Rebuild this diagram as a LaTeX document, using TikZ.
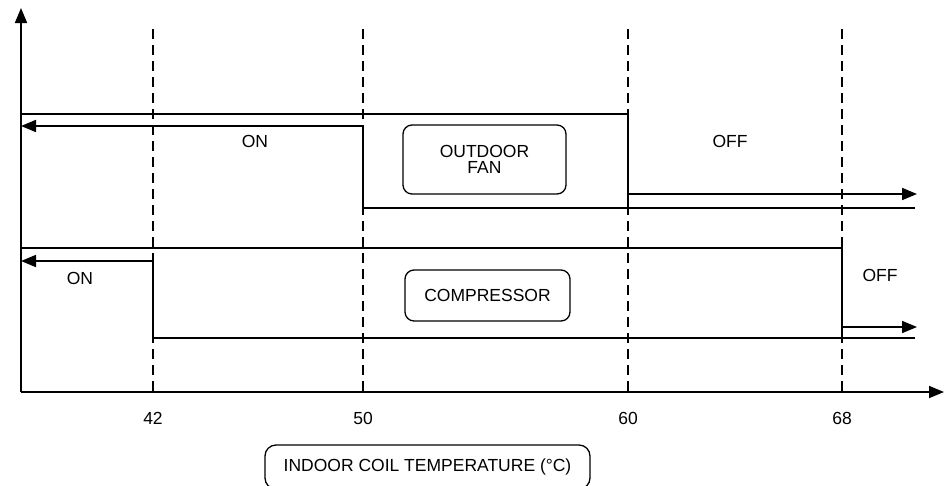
\documentclass[tikz,border=0pt]{standalone}
\usepackage{fontspec}
\setmainfont{Liberation Sans}
\usetikzlibrary{arrows.meta}
\begin{document}
\begin{tikzpicture}[x=1pt,y=-1pt,
  line/.style={line width=1.7pt},
  guide/.style={line width=1.5pt,dash pattern=on 10pt off 6pt},
  flow/.style={line width=1.7pt,-{Triangle[length=15pt,width=12pt]}},
  lbl/.style={font=\fontsize{17.5}{17.5}\selectfont,inner sep=0pt},
  tag/.style={draw,line width=1.3pt,rounded corners=9pt,inner sep=0pt,align=center,
    font=\fontsize{17.5}{16.5}\selectfont}]
\useasboundingbox (0,0) rectangle (944,485);
\clip (0,0) rectangle (944,485);

% axes
\coordinate (O) at (21,392);
\coordinate (ytop) at (21,8);
\coordinate (xend) at (944,392);
\draw[flow] (O) -- (ytop);
\draw[flow] (O) -- (xend);

% temperature guides
\foreach \x/\t in {153/42,363/50,628/60,842/68}{
  \coordinate (g\t top) at (\x,29);
  \coordinate (g\t bot) at (\x,392);
  \draw[guide] (g\t top) -- (g\t bot);
  \node[lbl] (n\t) at (\x,418) {\t};
}

% outdoor fan hysteresis
\coordinate (fa) at (21,114);
\coordinate (fb) at (628,114);
\coordinate (fc) at (628,208);
\coordinate (fd) at (363,208);
\coordinate (fe) at (915,208);
\coordinate (ff) at (363,126);
\coordinate (fg) at (21,126);
\coordinate (fh) at (628,194);
\coordinate (fi) at (917,194);
\draw[line] (fa) -- (fb) -- (fc);
\draw[line] (fd) -- (fe);
\draw[line] (ff) -- (fd);
\draw[flow] (ff) -- (fg);
\draw[flow] (fh) -- (fi);
\node[lbl] (fanon) at (255,141) {ON};
\node[lbl] (fanoff) at (730,141) {OFF};
\node[tag,minimum width=163pt,minimum height=69pt] (fan) at (484.5,159.5) {OUTDOOR\\FAN};

% compressor hysteresis
\coordinate (ca) at (21,248);
\coordinate (cb) at (842,248);
\coordinate (cc) at (842,338);
\coordinate (cd) at (153,338);
\coordinate (ce) at (915,338);
\coordinate (cf) at (153,261);
\coordinate (cg) at (21,261);
\coordinate (ch) at (842,327);
\coordinate (ci) at (917,327);
\draw[line] (ca) -- (cb) -- (cc);
\draw[line] (cd) -- (ce);
\draw[line] (cf) -- (cd);
\draw[flow] (cf) -- (cg);
\draw[flow] (ch) -- (ci);
\node[lbl] (compon) at (80,278) {ON};
\node[lbl] (compoff) at (880,275) {OFF};
\node[tag,minimum width=165pt,minimum height=51pt] (comp) at (487.5,295.5) {COMPRESSOR};

% axis caption
\node[tag,rounded corners=11pt,minimum width=325pt,minimum height=44pt] (cap) at (427.5,467) {INDOOR COIL TEMPERATURE (\textdegree C)};
\end{tikzpicture}
\end{document}
